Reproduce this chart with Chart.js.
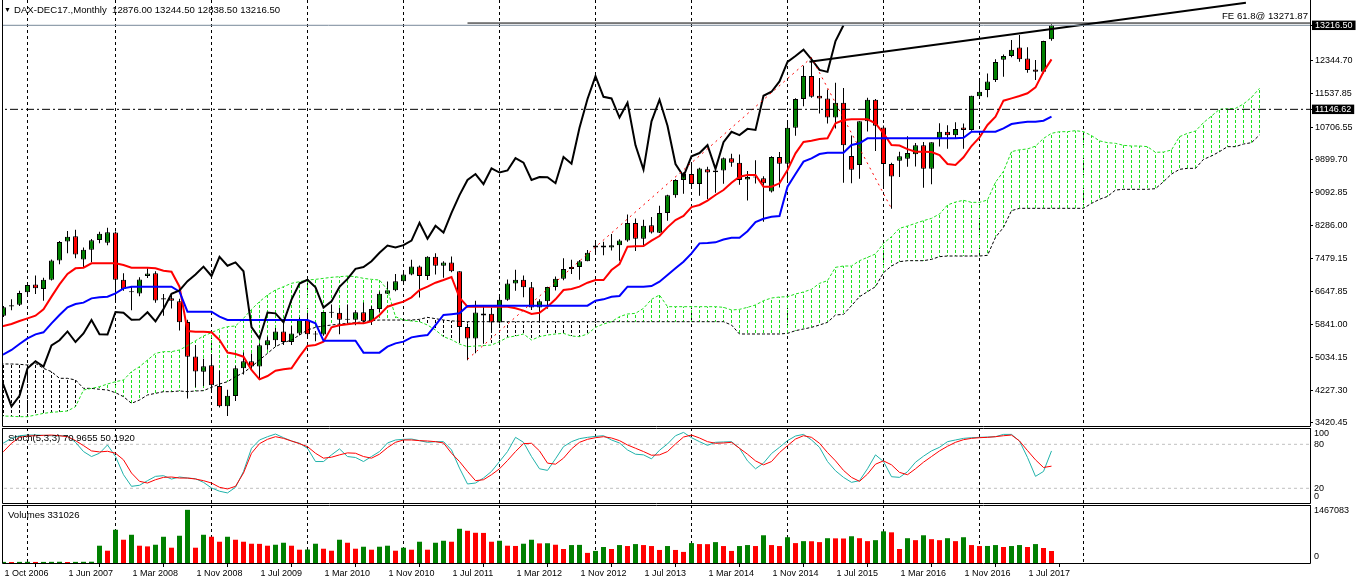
<!DOCTYPE html>
<html>
<head>
<meta charset="utf-8">
<title>DAX-DEC17 Monthly</title>
<script src="https://cdn.jsdelivr.net/npm/chart.js@4.4.1/dist/chart.umd.min.js"></script>
<style>
  html, body { margin: 0; padding: 0; background: #fff; }
  #wrap { position: relative; width: 1358px; height: 584px; overflow: hidden; font-family: "Liberation Sans", Arial, sans-serif; }
  #wrap canvas { position: absolute; left: 0; }
  .txt { position: absolute; font-size: 9.6px; line-height: 11px; color: #000; white-space: pre; pointer-events: none; }
</style>
</head>
<body>
<div id="wrap">
  <canvas id="mainChart" width="1358" height="427" style="top:0"></canvas>
  <canvas id="stochChart" width="1358" height="77" style="top:427px"></canvas>
  <canvas id="volChart" width="1358" height="80" style="top:504px"></canvas>
  <div class="txt" style="left:4px;top:4px;font-size:7px;">▼</div>
  <div class="txt" style="left:14px;top:4px">DAX-DEC17.,Monthly  12876.00 13244.50 12838.50 13216.50</div>
  <div class="txt" style="right:50px;top:10px">FE 61.8@ 13271.87</div>
  <div class="txt" style="left:8px;top:432px">Stoch(5,3,3) 70.9655 50.1920</div>
  <div class="txt" style="left:8px;top:509px">Volumes 331026</div>
</div>
<script>
// ---- data (monthly bars, index 1 = 1 Oct 2006, index 132 = Oct 2017) ----
const firstBar = 1;

const opens = [
  6060, 6290, 6330, 6640, 6830, 6720, 6950, 7420, 7890, 8020,
  7450, 7690, 7930, 7860, 8110, 6950, 6660, 6610, 7040, 7110,
  6460, 6490, 6420, 5910, 5060, 4680, 4840, 4330, 3830, 4085,
  4769, 4941, 4809, 5332, 5458, 5675, 5415, 5625, 5957, 5608,
  5598, 6154, 6136, 5965, 5966, 6148, 5925, 6229, 6601, 6688,
  6914, 7077, 7272, 7041, 7514, 7293, 7376, 7158, 5784, 5502,
  6070, 6110, 5898, 6458, 6856, 6947, 6761, 6264, 6416, 6772,
  6970, 7216, 7260, 7405, 7740, 7790, 7745, 7800, 7914, 8349,
  7959, 8290, 8104, 8594, 9033, 9405, 9552, 9306, 9670, 9595,
  9640, 9943, 9833, 9420, 9470, 9450, 9120, 9975, 9806, 10694,
  11402, 11966, 11480, 11414, 10945, 11309, 10000, 9775, 10850, 11382,
  10700, 9798, 9880, 9930, 10039, 10263, 9680, 10420, 10593, 10511,
  10700, 10640, 11470, 11620, 11870, 12370, 12460, 12670, 12400, 12130,
  12070, 12876
];
const highs = [
  6300, 6470, 6680, 6860, 7050, 7000, 7450, 7900, 8150, 8180,
  7740, 7950, 8130, 8230, 8140, 7110, 6780, 7010, 7230, 7160,
  6600, 6590, 6480, 5960, 5340, 5000, 5110, 4710, 4240, 4830,
  5158, 5131, 5385, 5551, 5760, 5888, 5811, 6026, 6094, 5688,
  6161, 6341, 6250, 6340, 6200, 6386, 6304, 6656, 6906, 7087,
  7180, 7441, 7300, 7527, 7600, 7402, 7523, 7160, 5868, 6431,
  6300, 6260, 6547, 6952, 7194, 7050, 6894, 6465, 6777, 7027,
  7479, 7443, 7434, 7683, 7880, 7883, 8075, 7948, 8558, 8458,
  8424, 8494, 8770, 9042, 9425, 9594, 9794, 9708, 9734, 9654,
  9960, 10050, 10033, 9625, 9891, 9500, 9990, 10093, 10810, 11420,
  12219, 12420, 11920, 11636, 11802, 11670, 10505, 10850, 11430, 11404,
  10750, 9830, 10104, 10486, 10318, 10341, 10338, 10802, 10754, 10827,
  10799, 11481, 11893, 12031, 12380, 12500, 12855, 12978, 12676, 12362,
  12834, 13244.5
];
const lows = [
  6030, 6200, 6300, 6560, 6600, 6430, 6930, 7330, 7600, 7480,
  7250, 7380, 7850, 7800, 6400, 6680, 6200, 6540, 6990, 6380,
  6060, 6240, 5700, 4020, 4300, 4330, 4230, 3800, 3590, 3960,
  4614, 4698, 4524, 5223, 5301, 5343, 5342, 5583, 5540, 5433,
  5566, 6012, 5607, 5877, 5825, 5887, 5832, 6153, 6595, 6664,
  6851, 7061, 6513, 6940, 7079, 6996, 7133, 5433, 4965, 5138,
  5370, 5705, 5870, 6433, 6677, 6520, 6206, 5915, 6236, 6685,
  6934, 7093, 6951, 7405, 7600, 7549, 7671, 7418, 7883, 7655,
  7771, 8090, 8097, 8400, 8967, 9070, 9256, 9017, 8936, 9091,
  9311, 9735, 9289, 8903, 9321, 8380, 9100, 9219, 9382, 10495,
  11221, 11431, 11046, 10795, 10675, 9338, 9325, 9434, 10600, 10123,
  9200, 8699, 9480, 9731, 9737, 9214, 9300, 10230, 10174, 10425,
  10175, 10620, 11414, 11444, 11819, 11950, 12432, 12321, 12046, 11869,
  12030, 12838.5
];
const closes = [
  6270, 6320, 6620, 6820, 6740, 6950, 7420, 7880, 8010, 7570,
  7690, 7920, 8080, 8120, 6950, 6720, 6640, 6955, 7100, 6440,
  6490, 6430, 5900, 5050, 4690, 4820, 4350, 3830, 4090, 4769,
  4941, 4809, 5332, 5458, 5675, 5415, 5625, 5957, 5608, 5598,
  6154, 6136, 5965, 5966, 6148, 5925, 6229, 6601, 6688, 6914,
  7077, 7272, 7041, 7514, 7293, 7376, 7158, 5784, 5502, 6141,
  6120, 5898, 6458, 6856, 6947, 6761, 6264, 6416, 6772, 6970,
  7216, 7260, 7405, 7612, 7790, 7745, 7800, 7914, 8349, 7959,
  8276, 8110, 8594, 9033, 9405, 9552, 9306, 9692, 9590, 9640,
  9943, 9833, 9407, 9480, 9474, 9327, 9975, 9806, 10694, 11402,
  11966, 11454, 11414, 10945, 11309, 10259, 9660, 10850, 11382, 10743,
  9798, 9495, 9990, 10070, 10263, 9680, 10337, 10593, 10511, 10665,
  10640, 11481, 11580, 11834, 12313, 12460, 12615, 12380, 12118, 12070,
  12829, 13216.5
];
const volumes = [
  30000, 26000, 31000, 33000, 29000, 30000, 32000, 34000, 28000, 31000,
  33000, 35000, 477000, 339000, 917000, 642000, 779000, 477000, 458000, 504000,
  724000, 422000, 752000, 1467083, 422000, 779000, 724000, 587000, 724000, 642000,
  587000, 532000, 528000, 477000, 504000, 559000, 477000, 367000, 372000, 532000,
  394000, 339000, 642000, 559000, 394000, 449000, 367000, 449000, 477000, 339000,
  422000, 367000, 587000, 367000, 559000, 614000, 587000, 944000, 889000, 834000,
  830000, 587000, 614000, 477000, 470000, 532000, 642000, 541000, 545000, 504000,
  387000, 495000, 500000, 279000, 333000, 441000, 387000, 495000, 468000, 522000,
  495000, 468000, 360000, 468000, 360000, 306000, 549000, 522000, 520000, 576000,
  468000, 333000, 468000, 495000, 468000, 765000, 495000, 468000, 711000, 549000,
  603000, 600000, 576000, 684000, 680000, 676000, 738000, 684000, 603000, 630000,
  873000, 846000, 387000, 684000, 630000, 765000, 657000, 630000, 684000, 603000,
  711000, 495000, 468000, 470000, 495000, 441000, 468000, 495000, 441000, 522000,
  414000, 331026
];

// Stochastic(5,3,3), index 0 .. 132
const stochK = [
  78, 81.8, 88.1, 91.7, 92.6, 92.6, 92.2, 91.7, 91.7, 91.3, 82.7,
  70.1, 63.3, 67.8, 79.1, 63.3, 38.5, 22.7, 24.1, 30.4, 36.3,
  37.2, 32.6, 35.4, 34, 33.1, 28.1, 20.5, 16, 13.7, 21.4,
  43, 74.6, 85.9, 90.4, 94, 89, 84.5, 81.4, 74.6, 56.5,
  56.5, 65.6, 73.7, 63.3, 62, 56.5, 63.3, 70.1, 81.8, 85.9,
  86.8, 87.2, 85, 82.7, 83.6, 83.6, 72.3, 47.5, 25.9, 27.2,
  34, 43, 56.5, 70.1, 89.5, 82.7, 63.3, 46.6, 44.4, 60.2,
  76.8, 83.6, 87.7, 89.5, 90.8, 91.7, 85.9, 81.8, 72.3, 66.5,
  65.6, 60.2, 71.9, 80.5, 91.7, 96.2, 89, 83.6, 78.6, 82.7,
  83.2, 83.6, 74.6, 57.4, 46.6, 54.3, 67.4, 75.9, 85, 91.3,
  93.5, 85.9, 75.9, 56.5, 43.9, 34.9, 28.1, 30.4, 46.6, 65.6,
  56.5, 35.8, 34.9, 42.6, 55.6, 63.8, 71, 75.9, 83.6, 85.9,
  88.1, 89, 89.5, 89.9, 90.4, 93.5, 93.5, 84.5, 62, 36.3,
  43, 70.97
];
const stochD = [
  62, 70.1, 81.4, 89.5, 91.3, 91.7, 92.2, 92.6, 91.7, 90.4, 85,
  78.2, 71, 69.6, 70.5, 67.8, 58.8, 40.8, 29.5, 27.2, 31.7,
  34.9, 35.4, 34, 34, 32.6, 30.4, 27.2, 21.4, 19.1, 22.7,
  40.8, 67.8, 80.9, 86.8, 90.4, 88.1, 84.5, 80.9, 76.8, 67.8,
  61.1, 62.4, 65.6, 68.3, 67.8, 63.3, 61.1, 66.5, 75.5, 82.7,
  85.9, 85.9, 85, 84.5, 83.6, 81.8, 67.8, 56.5, 43, 30.4,
  31.7, 38.5, 46.6, 57.9, 70.1, 80.9, 81.4, 71, 54.3, 52.9,
  61.1, 73.7, 82.7, 86.8, 89, 90.4, 88.6, 85, 79.1, 74.6,
  70.1, 65.1, 65.6, 70.1, 80.5, 89.9, 92.6, 88.6, 83.6, 81.4,
  81.8, 82.7, 74.6, 66.5, 57.4, 52, 56.5, 68.7, 78.2, 87.2,
  91.7, 89.5, 81.4, 68.7, 57.4, 44.4, 34.9, 29.5, 39.4, 52.9,
  57.4, 52, 41.7, 38.5, 46.6, 55.6, 63.3, 71, 77.3, 82.7,
  86.3, 88.1, 89, 89.5, 90.4, 91.7, 92.6, 84.5, 71.4, 58.8,
  48.4, 50.19
];

// Ichimoku lines, index 0 .. 132
const tenkan = [
  5780, 5809, 5858, 5932, 5998, 6063, 6219, 6532, 6835, 7090,
  7230, 7246, 7353, 7353, 7353, 7353, 7312, 7246, 7246, 7246,
  7230, 7172, 7147, 6778, 5686, 5669, 5669, 5653, 5464, 5155,
  5119, 5053, 4725, 4495, 4577, 4708, 4741, 4766, 5053, 5316,
  5340, 5423, 5776, 5825, 5850, 5874, 5874, 5924, 6080, 6285,
  6351, 6408, 6515, 6696, 6778, 6876, 6942, 7016, 6510, 6285,
  6285, 6285, 6285, 6285, 6285, 6244, 6187, 6104, 6137, 6285,
  6466, 6696, 6720, 6778, 6876, 6942, 6942, 7188, 7336, 7763,
  7771, 7780, 7911, 8026, 8239, 8420, 8519, 8740, 8790, 8897,
  9036, 9160, 9340, 9488, 9529, 9529, 9242, 9242, 9324, 9652,
  10063, 10342, 10375, 10416, 10432, 10802, 10884, 10900, 10900, 10900,
  10802, 10556, 10268, 10256, 10165, 10104, 10104, 10095, 10021, 9800,
  9775, 9964, 10243, 10457, 10761, 10966, 11360, 11417, 11475, 11541,
  11688, 12074, 12378
];
const kijun = [
  5050, 5111, 5218, 5365, 5505, 5604, 5653, 5875, 6080, 6269,
  6351, 6384, 6490, 6515, 6532, 6614, 6737, 6778, 6778, 6778,
  6778, 6778, 6778, 6655, 6162, 6162, 6162, 6162, 6039, 5957,
  5956, 5956, 5956, 5956, 5956, 5956, 5956, 5956, 5956, 5956,
  5874, 5447, 5447, 5447, 5447, 5447, 5152, 5152, 5152, 5300,
  5381, 5423, 5529, 5562, 5587, 5833, 6080, 6100, 6121, 6300,
  6310, 6310, 6310, 6310, 6310, 6310, 6310, 6310, 6310, 6310,
  6310, 6310, 6310, 6310, 6310, 6433, 6466, 6531, 6548, 6778,
  6778, 6778, 6794, 6901, 7065, 7230, 7394, 7599, 7845, 7855,
  7870, 7940, 7983, 7983, 8143, 8367, 8450, 8500, 8519, 9242,
  9554, 9858, 9940, 10046, 10079, 10079, 10079, 10268, 10309, 10432,
  10432, 10432, 10432, 10432, 10432, 10432, 10432, 10432, 10432, 10432,
  10432, 10448, 10596, 10596, 10596, 10596, 10678, 10785, 10818, 10843,
  10843, 10867, 10966
];
const chikouShift = 26;
// Senkou spans (already shifted 26 bars ahead), index 0 .. 158
const spanA = [
  3592, 3592, 3584, 3575, 3575, 3616, 3657, 3682, 3698, 3715,
  3822, 4232, 4273, 4314, 4380, 4437, 4479, 4684, 4807, 4971,
  5135, 5177, 5177, 5218, 5325, 5448, 5563, 5645, 5735, 5793,
  5809, 5998, 6219, 6408, 6572, 6696, 6778, 6860, 6901, 6942,
  6958, 6983, 7008, 7024, 7040, 7024, 6983, 6958, 6942, 6700,
  6039, 5956, 5932, 5915, 5833, 5710, 5546, 5472, 5365, 5300,
  5316, 5325, 5341, 5423, 5530, 5562, 5612, 5464, 5546, 5587,
  5612, 5628, 5562, 5546, 5612, 5776, 5858, 5915, 6039, 6104,
  6121, 6244, 6466, 6572, 6285, 6285, 6285, 6285, 6285, 6285,
  6285, 6269, 6203, 6219, 6269, 6326, 6433, 6499, 6523, 6531,
  6597, 6647, 6712, 6860, 6925, 7254, 7287, 7287, 7418, 7500,
  7583, 7845, 8010, 8215, 8272, 8338, 8404, 8461, 8568, 8790,
  8864, 8905, 8855, 8855, 8913, 9350, 9620, 10104, 10150, 10170,
  10240, 10430, 10555, 10596, 10596, 10621, 10596, 10500, 10370, 10325,
  10309, 10260, 10243, 10243, 10227, 10087, 10095, 10145, 10473, 10555,
  10613, 10818, 10982, 11146, 11163, 11171, 11278, 11442, 11664
];
const spanB = [
  4873, 4873, 4873, 4865, 4848, 4889, 4766, 4684, 4520, 4520,
  4479, 4273, 4273, 4249, 4232, 4166, 4068, 3904, 3986, 4109,
  4150, 4191, 4191, 4208, 4191, 4208, 4216, 4298, 4380, 4437,
  4560, 4659, 4807, 4971, 5135, 5300, 5398, 5464, 5587, 5710,
  5776, 5809, 5833, 5858, 5874, 5891, 5915, 5940, 5956, 5956,
  5956, 5956, 5956, 5973, 6022, 5989, 5956, 5935, 5925, 5915,
  5915, 5915, 5915, 5915, 5915, 5915, 5915, 5915, 5915, 5915,
  5915, 5915, 5915, 5915, 5915, 5915, 5915, 5915, 5915, 5915,
  5915, 5915, 5915, 5915, 5915, 5915, 5915, 5915, 5915, 5915,
  5915, 5915, 5833, 5612, 5612, 5612, 5612, 5612, 5612, 5628,
  5694, 5735, 5776, 5833, 5899, 6080, 6096, 6310, 6531, 6654,
  6778, 7123, 7287, 7394, 7418, 7418, 7418, 7451, 7517, 7533,
  7533, 7533, 7533, 7533, 7550, 7993, 8240, 8650, 8708, 8708,
  8708, 8708, 8708, 8708, 8708, 8708, 8708, 8830, 8930, 9000,
  9159, 9176, 9176, 9176, 9176, 9192, 9364, 9553, 9668, 9693,
  9693, 9915, 9997, 10104, 10227, 10227, 10292, 10325, 10514
];

// axes
const xLabelIdx = [1, 9, 17, 25, 33, 41, 49, 57, 65, 73, 81, 89, 97, 105, 113, 121, 129];
const xLabels = ["1 Oct 2006", "1 Jun 2007", "1 Mar 2008", "1 Nov 2008", "1 Jul 2009", "1 Mar 2010",
  "1 Nov 2010", "1 Jul 2011", "1 Mar 2012", "1 Nov 2012", "1 Jul 2013", "1 Mar 2014",
  "1 Nov 2014", "1 Jul 2015", "1 Mar 2016", "1 Nov 2016", "1 Jul 2017"];
const gridIdx = [4, 15, 27, 39, 51, 63, 75, 87, 99, 111, 123, 136];
const priceTicks = [13216.50, 12344.70, 11537.85, 11146.62, 10706.55, 9899.70, 9092.85,
  8286.00, 7479.15, 6647.85, 5841.00, 5034.15, 4227.30, 3420.45];
const priceMarks = [13216.50, 11146.62];
const stochLevels = [20, 80];
const stochAxis = [100, 80, 20, 0];
const volAxis = [1467083, 0];

// objects drawn on the chart
const bidPrice = 13216.50;
const hLinePrice = 11146.62;
const feLevel = 13271.87, feStart = 59;
const fibPoints = [[59, 4990], [102, 12420], [112, 8700]];
const trendPoints = [[101.75, 12320], [156.3, 13773]];

// ---- chart setup ----
const X_MIN = 0.8125, X_MAX = 164.3125;   // 8 px per bar
const UP = "#008000", DOWN = "#ff0000", KUMO_UP = "#1ee01e", KUMO_DOWN = "#000000";

Chart.defaults.font.family = '"Liberation Sans", Arial, sans-serif';
Chart.defaults.font.size = 9;
Chart.defaults.color = "#000";

function dashPattern(color) {
  const c = document.createElement("canvas");
  c.width = 1; c.height = 5;
  const g = c.getContext("2d");
  g.fillStyle = color;
  g.fillRect(0, 0, 1, 3);
  return g.createPattern(c, "repeat");
}
const hatchUp = dashPattern(KUMO_UP);
const hatchDown = dashPattern(KUMO_DOWN);

function xAxis() {
  return { type: "linear", min: X_MIN, max: X_MAX, offset: false, display: false };
}
function hLine(y, fromX) {
  return [{ x: fromX === undefined ? X_MIN - 5 : fromX, y: y }, { x: X_MAX + 5, y: y }];
}
function pts(arr, start) {
  return arr.map((y, k) => ({ x: k + start, y: y }));
}

// vertical dashed grid through every panel
const gridLines = {
  id: "gridLines",
  beforeDatasetsDraw(chart) {
    const { ctx, chartArea: a, scales: { x } } = chart;
    ctx.save();
    ctx.strokeStyle = "#000";
    ctx.lineWidth = 1;
    ctx.setLineDash([3, 3]);
    gridIdx.forEach(i => {
      const px = Math.round(x.getPixelForValue(i) - 0.5) + 0.5;
      ctx.beginPath();
      ctx.moveTo(px, a.top);
      ctx.lineTo(px, a.bottom);
      ctx.stroke();
    });
    ctx.restore();
  }
};

// black border round each panel
const frame = {
  id: "frame",
  afterDraw(chart, args, opts) {
    const { ctx, chartArea: a } = chart;
    const l = a.left + 0.5, r = a.right + 0.5, t = a.top + 0.5, b = a.bottom + 0.5;
    ctx.save();
    ctx.strokeStyle = "#000";
    ctx.lineWidth = 1;
    ctx.beginPath();
    ctx.moveTo(l, a.top); ctx.lineTo(l, b); ctx.lineTo(r, b); ctx.lineTo(r, a.top);
    if (opts.top !== false) { ctx.moveTo(l, t); ctx.lineTo(r, t); }
    ctx.stroke();
    ctx.restore();
  }
};

// right-hand labels for the sub windows, kept inside the panel like MT4 does
const sideLabels = {
  id: "sideLabels",
  afterDraw(chart, args, opts) {
    if (!opts.items) return;
    const { ctx, chartArea: a, scales: { y } } = chart;
    ctx.save();
    ctx.fillStyle = "#000";
    ctx.font = '9px "Liberation Sans", Arial, sans-serif';
    ctx.textBaseline = "middle";
    opts.items.forEach(v => {
      const py = Math.min(Math.max(y.getPixelForValue(v), a.top + 6), a.bottom - 6);
      ctx.fillText(String(v), a.right + 4, py);
    });
    ctx.restore();
  }
};

const common = {
  responsive: false,
  animation: false,
  devicePixelRatio: 1,
  events: []
};

// ---- main window: candles + Ichimoku ----
const barIdx = opens.map((_, k) => k + firstBar);
const isMark = ctx => ctx.tick && priceMarks.includes(ctx.tick.value);

new Chart(document.getElementById("mainChart"), {
  type: "bar",
  data: {
    datasets: [
      { type: "line", label: "FE 61.8", data: hLine(feLevel, feStart), borderColor: "#000", borderWidth: 1, pointRadius: 0, order: 0 },
      { type: "line", label: "Bid", data: hLine(bidPrice), borderColor: "#778899", borderWidth: 1, pointRadius: 0, order: 0 },
      { type: "line", label: "Level", data: hLine(hLinePrice), borderColor: "#000", borderWidth: 1, borderDash: [8, 3, 2, 3], pointRadius: 0, order: 0 },
      { type: "line", label: "Trend", data: trendPoints.map(p => ({ x: p[0], y: p[1] })), borderColor: "#000", borderWidth: 2, pointRadius: 0, order: 0 },
      { type: "line", label: "Fibo", data: fibPoints.map(p => ({ x: p[0], y: p[1] })), borderColor: "#ff0000", borderWidth: 1, borderDash: [2, 4], pointRadius: 0, order: 0 },
      { type: "line", label: "Chikou Span", data: pts(closes, firstBar - chikouShift), borderColor: "#000", borderWidth: 2, pointRadius: 0, order: 1 },
      { type: "line", label: "Kijun-sen", data: pts(kijun, 0), borderColor: "#0000ff", borderWidth: 2, pointRadius: 0, order: 2 },
      { type: "line", label: "Tenkan-sen", data: pts(tenkan, 0), borderColor: "#ff0000", borderWidth: 2, pointRadius: 0, order: 3 },
      { type: "line", label: "Senkou Span A", data: pts(spanA, 0), borderColor: KUMO_UP, borderWidth: 1, borderDash: [3, 2], pointRadius: 0, order: 4 },
      { type: "line", label: "Senkou Span B", data: pts(spanB, 0), borderColor: KUMO_DOWN, borderWidth: 1, borderDash: [3, 2], pointRadius: 0, order: 5 },
      {
        label: "Bodies",
        data: barIdx.map((x, k) => ({ x: x, y: [opens[k], closes[k]] })),
        barThickness: 5, grouped: false, inflateAmount: 0, minBarLength: 1,
        borderColor: "#000", borderWidth: 1, borderSkipped: false,
        backgroundColor: ctx => (ctx.type !== "data" || closes[ctx.dataIndex] >= opens[ctx.dataIndex]) ? UP : DOWN,
        order: 6
      },
      {
        label: "Wicks",
        data: barIdx.map((x, k) => ({ x: x, y: [lows[k], highs[k]] })),
        barThickness: 1, grouped: false, inflateAmount: 0, backgroundColor: "#000", order: 7
      },
      {
        label: "Kumo",
        data: spanA.map((a, i) => ({ x: i, y: [Math.min(a, spanB[i]), Math.max(a, spanB[i])] })),
        barThickness: 1, grouped: false, inflateAmount: 0,
        backgroundColor: ctx => (ctx.type !== "data" || spanA[ctx.dataIndex] >= spanB[ctx.dataIndex]) ? hatchUp : hatchDown,
        order: 8
      }
    ]
  },
  options: Object.assign({}, common, {
    layout: { padding: { left: 2, top: 0, right: 0, bottom: 1 } },
    plugins: { legend: { display: false }, tooltip: { enabled: false }, frame: { top: false } },
    scales: {
      x: xAxis(),
      y: {
        position: "right",
        min: 3345.5,
        max: 13840,
        afterBuildTicks: s => { s.ticks = priceTicks.map(v => ({ value: v })); },
        afterFit: s => { s.width = 48; s.paddingTop = 0; s.paddingBottom = 0; },
        ticks: {
          autoSkip: false,
          padding: 2,
          font: { size: 9, lineHeight: 1.05 },
          callback: v => v.toFixed(2),
          color: ctx => isMark(ctx) ? "#fff" : "#000",
          showLabelBackdrop: ctx => isMark(ctx),
          backdropColor: "#000",
          backdropPadding: { x: 3, y: 0 }
        },
        grid: { drawOnChartArea: false, drawTicks: true, tickLength: 3, color: "#000" },
        border: { display: false }
      }
    }
  }),
  plugins: [gridLines, frame]
});

// ---- Stochastic window ----
new Chart(document.getElementById("stochChart"), {
  type: "line",
  data: {
    datasets: [
      { label: "Signal", data: pts(stochD, 0), borderColor: "#ff0000", borderWidth: 1, pointRadius: 0, order: 0 },
      { label: "Main", data: pts(stochK, 0), borderColor: "#20b2aa", borderWidth: 1, pointRadius: 0, order: 1 }
    ].concat(stochLevels.map(v => ({
      label: "Level " + v, data: hLine(v), borderColor: "#c0c0c0", borderWidth: 1, borderDash: [3, 3], pointRadius: 0, order: 2
    })))
  },
  options: Object.assign({}, common, {
    layout: { padding: { left: 2, top: 1, right: 48, bottom: 1 } },
    plugins: { legend: { display: false }, tooltip: { enabled: false }, sideLabels: { items: stochAxis } },
    scales: {
      x: xAxis(),
      y: { display: false, min: -0.05, max: 102.23 }
    }
  }),
  plugins: [gridLines, frame, sideLabels]
});

// ---- Volumes window ----
new Chart(document.getElementById("volChart"), {
  type: "bar",
  data: {
    datasets: [{
      label: "Volumes",
      data: pts(volumes, firstBar),
      barThickness: 5, grouped: false, inflateAmount: 0,
      backgroundColor: ctx => {
        if (ctx.type !== "data") return UP;
        const k = ctx.dataIndex;
        return (k === 0 || volumes[k] > volumes[k - 1]) ? UP : DOWN;
      }
    }]
  },
  options: Object.assign({}, common, {
    layout: { padding: { left: 2, top: 1, right: 48, bottom: 0 } },
    plugins: { legend: { display: false }, tooltip: { enabled: false }, sideLabels: { items: volAxis } },
    scales: {
      x: {
        type: "linear", min: X_MIN, max: X_MAX, offset: false,
        afterBuildTicks: s => { s.ticks = xLabelIdx.map(v => ({ value: v })); },
        afterFit: s => { s.height = 21; s.paddingLeft = 0; s.paddingRight = 0; },
        ticks: {
          autoSkip: false, maxRotation: 0, minRotation: 0, align: "start", padding: 1, labelOffset: 1,
          font: { size: 9 },
          callback: v => xLabels[xLabelIdx.indexOf(v)]
        },
        grid: { drawOnChartArea: false, drawTicks: true, tickLength: 4, color: "#000" },
        border: { display: false }
      },
      y: { display: false, min: 0, max: 1600000 }
    }
  }),
  plugins: [gridLines, frame, sideLabels]
});
</script>
</body>
</html>
